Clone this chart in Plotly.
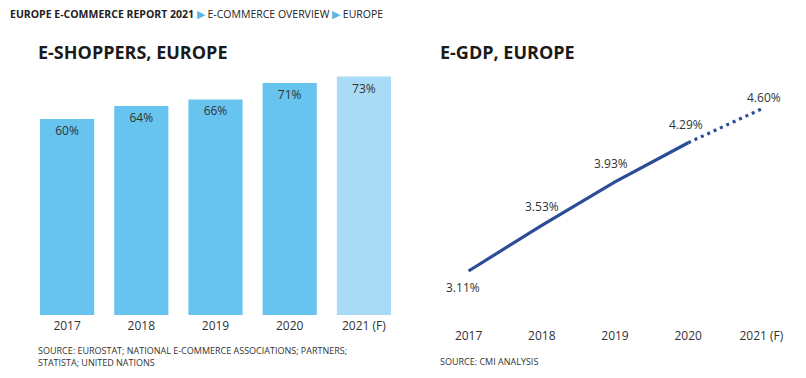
import plotly.graph_objects as go

years = ["2017", "2018", "2019", "2020", "2021 (F)"]
shoppers = [60, 64, 66, 71, 73]
shopper_labels = ["60%", "64%", "66%", "71%", "73%"]
egdp = [3.11, 3.53, 3.93, 4.29, 4.60]
egdp_labels = ["3.11%", "3.53%", "3.93%", "4.29%", "4.60%"]

# page body has an 8px margin; figure is sized to fill the window exactly
OFF = 8
W, H = 806 - 2 * OFF, 378 - 2 * OFF
def py(p):
    return 1 - (p - OFF) / H
def px(p):
    return (p - OFF) / W

FONT = "Open Sans"
BAR = "#67C4EE"
BAR_F = "#A9DBF6"
LINE = "#2B4C96"
TXT = "#333333"

fig = go.Figure()

fig.add_trace(go.Bar(
    x=years, y=shoppers, text=shopper_labels,
    marker=dict(color=[BAR, BAR, BAR, BAR, BAR_F], line=dict(width=0)),
    textposition="inside", insidetextanchor="end",
    textfont=dict(family=FONT, size=12, color=TXT),
    cliponaxis=False, xaxis="x", yaxis="y", showlegend=False, hoverinfo="skip",
))

idx = list(range(len(years)))
fig.add_trace(go.Scatter(
    x=idx[:4], y=egdp[:4], mode="lines",
    line=dict(color=LINE, width=3.2), xaxis="x2", yaxis="y2",
    showlegend=False, hoverinfo="skip",
))
fig.add_trace(go.Scatter(
    x=idx[3:], y=egdp[3:], mode="lines",
    line=dict(color=LINE, width=3.2, dash="3px,4px"), xaxis="x2", yaxis="y2",
    showlegend=False, hoverinfo="skip",
))

shifts = [(-6, -16), (0, 19), (-4, 18), (-2, 18), (3, 12)]
anns = []
for i, v, lab, (dx, dy) in zip(idx, egdp, egdp_labels, shifts):
    anns.append(dict(x=i, y=v, xref="x2", yref="y2", text=lab, showarrow=False,
                     xshift=dx, yshift=dy, font=dict(family=FONT, size=12, color=TXT)))

arrow = " <span style='color:#5BB7E6'>\u25B6</span> "
anns.append(dict(x=px(8), y=py(14), xref="paper", yref="paper", xanchor="left", yanchor="middle",
                 showarrow=False,
                 text="<b>EUROPE E-COMMERCE REPORT 2021</b>" + arrow + "E-COMMERCE OVERVIEW" + arrow + "EUROPE",
                 font=dict(family=FONT, size=10.5, color="#222222")))
anns.append(dict(x=px(36), y=py(52), xref="paper", yref="paper", xanchor="left", yanchor="middle",
                 showarrow=False, text="<b>E-SHOPPERS, EUROPE</b>",
                 font=dict(family=FONT, size=18, color="#1a1a1a")))
anns.append(dict(x=px(438), y=py(52), xref="paper", yref="paper", xanchor="left", yanchor="middle",
                 showarrow=False, text="<b>E-GDP, EUROPE</b>",
                 font=dict(family=FONT, size=18, color="#1a1a1a")))
anns.append(dict(x=px(36), y=py(356), xref="paper", yref="paper", xanchor="left", yanchor="middle",
                 showarrow=False, align="left",
                 text="SOURCE: EUROSTAT; NATIONAL E-COMMERCE ASSOCIATIONS; PARTNERS;<br>STATISTA; UNITED NATIONS",
                 font=dict(family=FONT, size=9, color=TXT)))
anns.append(dict(x=px(438), y=py(361), xref="paper", yref="paper", xanchor="left", yanchor="middle",
                 showarrow=False, text="SOURCE: CMI ANALYSIS",
                 font=dict(family=FONT, size=9, color=TXT)))

fig.update_layout(
    width=W, height=H, margin=dict(l=0, r=0, t=0, b=0),
    paper_bgcolor="white", plot_bgcolor="white",
    font=dict(family=FONT, size=12, color=TXT),
    bargap=0.27,
    xaxis=dict(domain=[px(30), px(401)], showgrid=False, zeroline=False, showline=False,
               ticks="", ticklabelstandoff=2,
               tickfont=dict(family=FONT, size=12, color=TXT), fixedrange=True),
    yaxis=dict(domain=[py(315), py(70)], range=[0, 75], visible=False, fixedrange=True),
    xaxis2=dict(domain=[px(432), px(798)], anchor="y2", range=[-0.5, 4.5], showgrid=False,
                zeroline=False, showline=False, ticks="", tickmode="array",
                tickvals=idx, ticktext=years,
                tickfont=dict(family=FONT, size=12, color=TXT), fixedrange=True),
    yaxis2=dict(domain=[py(327), py(80)], range=[3.11 - 56 / 108.7, 3.11 + 191 / 108.7],
                visible=False, anchor="x2", fixedrange=True),
    annotations=anns,
)

fig.write_html("out.html")
